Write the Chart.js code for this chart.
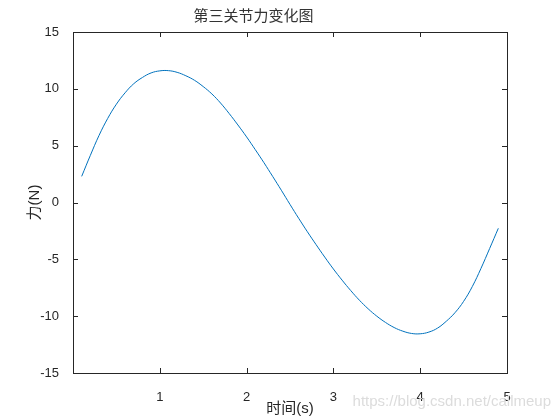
<!DOCTYPE html>
<html>
<head>
<meta charset="utf-8">
<script src="https://cdn.jsdelivr.net/npm/chart.js@4"></script>
<style>
  html, body { margin: 0; padding: 0; background: #fff; }
  #wrap { width: 560px; height: 420px; }
</style>
</head>
<body>
<div id="wrap"><canvas id="chart" width="560" height="420"></canvas></div>
<script>
// values
const times = [0.1, 0.2, 0.3, 0.4, 0.5, 0.6, 0.7, 0.8, 0.9, 1.0,
  1.1, 1.2, 1.3, 1.4, 1.5, 1.6, 1.7, 1.8, 1.9, 2.0,
  2.1, 2.2, 2.3, 2.4, 2.5, 2.6, 2.7, 2.8, 2.9, 3.0,
  3.1, 3.2, 3.3, 3.4, 3.5, 3.6, 3.7, 3.8, 3.9, 4.0,
  4.1, 4.2, 4.3, 4.4, 4.5, 4.6, 4.7, 4.8, 4.9];
const force = [2.3, 4.15, 5.9, 7.4, 8.65, 9.65, 10.45, 11.0, 11.4, 11.58,
  11.6, 11.45, 11.15, 10.75, 10.2, 9.55, 8.75, 7.82, 6.82, 5.77,
  4.65, 3.5, 2.3, 1.08, -0.17, -1.39, -2.57, -3.7, -4.8, -5.85,
  -6.83, -7.75, -8.6, -9.35, -10.0, -10.55, -11.0, -11.32, -11.52, -11.55,
  -11.4, -11.05, -10.45, -9.7, -8.7, -7.4, -5.8, -4.05, -2.27];
const xTicks = [1, 2, 3, 4, 5];
const yTicks = [-15, -10, -5, 0, 5, 10, 15];

const title = "第三关节力变化图";
const xLabel = "时间(s)";
const yLabel = "力(N)";
const watermark = "https://blog.csdn.net/callmeup";

const axisColor = "#262626";
const fontFamily = '"Liberation Sans", Arial, "Noto Sans CJK SC", sans-serif';

// matlab style box with inward ticks on all sides
const boxPlugin = {
  id: "box",
  afterDatasetsDraw(chart) {
    const { ctx, chartArea: a, scales } = chart;
    const len = 5;
    ctx.save();
    ctx.strokeStyle = axisColor;
    ctx.lineWidth = 1;
    ctx.beginPath();
    xTicks.forEach((v) => {
      const px = Math.round(scales.x.getPixelForValue(v)) + 0.5;
      ctx.moveTo(px, a.bottom);
      ctx.lineTo(px, a.bottom - len);
      ctx.moveTo(px, a.top);
      ctx.lineTo(px, a.top + len);
    });
    yTicks.forEach((v) => {
      const py = Math.round(scales.y.getPixelForValue(v)) + 0.5;
      ctx.moveTo(a.left, py);
      ctx.lineTo(a.left + len, py);
      ctx.moveTo(a.right, py);
      ctx.lineTo(a.right - len, py);
    });
    ctx.stroke();
    ctx.strokeRect(Math.round(a.left) + 0.5, Math.round(a.top) + 0.5,
      Math.round(a.right - a.left), Math.round(a.bottom - a.top));
    ctx.restore();
  },
  afterDraw(chart) {
    const { ctx } = chart;
    ctx.save();
    ctx.font = "15px " + fontFamily;
    ctx.textAlign = "right";
    ctx.textBaseline = "middle";
    ctx.fillStyle = "#dcdcdc";
    ctx.fillText(watermark, 551, 402);
    ctx.restore();
  },
};

new Chart(document.getElementById("chart"), {
  type: "line",
  data: {
    datasets: [
      {
        data: times.map((t, i) => ({ x: t, y: force[i] })),
        borderColor: "#0072BD",
        borderWidth: 1,
        pointRadius: 0,
        tension: 0.4,
        fill: false,
      },
    ],
  },
  options: {
    responsive: false,
    animation: false,
    layout: { padding: { left: 0, right: 53, top: 0, bottom: 0 } },
    plugins: {
      legend: { display: false },
      tooltip: { enabled: false },
      title: {
        display: true,
        text: title,
        color: "#333",
        font: { family: fontFamily, size: 15, weight: "normal" },
        padding: { top: 8, bottom: 6 },
      },
    },
    scales: {
      x: {
        type: "linear",
        min: 0,
        max: 5,
        afterBuildTicks: (scale) => { scale.ticks = xTicks.map((v) => ({ value: v })); },
        afterFit: (scale) => { scale.height = 47; },
        grid: { display: false },
        border: { display: false },
        ticks: { color: axisColor, padding: 9, font: { family: fontFamily, size: 13 } },
        title: {
          display: true,
          text: xLabel,
          color: axisColor,
          font: { family: fontFamily, size: 15 },
          padding: { top: 0, bottom: 2 },
        },
      },
      y: {
        min: -15,
        max: 15,
        afterBuildTicks: (scale) => { scale.ticks = yTicks.map((v) => ({ value: v })); },
        afterFit: (scale) => { scale.width = 73; },
        grid: { display: false },
        border: { display: false },
        ticks: { color: axisColor, padding: 6, font: { family: fontFamily, size: 13 } },
        title: {
          display: true,
          text: yLabel,
          color: axisColor,
          font: { family: fontFamily, size: 15 },
          padding: { top: 26, bottom: 0 },
        },
      },
    },
  },
  plugins: [boxPlugin],
});
</script>
</body>
</html>
